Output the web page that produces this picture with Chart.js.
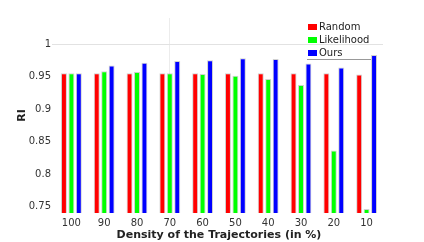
<!DOCTYPE html>
<html>
<head>
<meta charset="utf-8">
<script src="https://cdn.jsdelivr.net/npm/chart.js@4"></script>
<style>
  html, body { margin: 0; padding: 0; background: #fff; }
  #wrap { position: relative; width: 424px; height: 242px; }
</style>
</head>
<body>
<div id="wrap"><canvas id="riChart" width="424" height="242"></canvas></div>
<script>
// Data
const densities = ['100', '90', '80', '70', '60', '50', '40', '30', '20', '10'];
const randomRI = [0.955, 0.955, 0.955, 0.955, 0.955, 0.955, 0.955, 0.955, 0.955, 0.953];
const likelihoodRI = [0.955, 0.958, 0.957, 0.955, 0.954, 0.951, 0.946, 0.937, 0.836, 0.746];
const oursRI = [0.955, 0.967, 0.971, 0.974, 0.975, 0.978, 0.977, 0.970, 0.964, 0.983];
const yTicks = [0.75, 0.8, 0.85, 0.9, 0.95, 1];

const font = "'DejaVu Sans', sans-serif";

// legend drawn inside the plot, top right, with a rule under it
const boxLegend = {
    id: 'boxLegend',
    afterDraw(chart) {
        const ctx = chart.ctx;
        const x0 = 308, y0 = 27;
        ctx.save();
        ctx.font = '10px ' + font;
        ctx.textBaseline = 'middle';
        chart.data.datasets.forEach((ds, i) => {
            const y = y0 + i * 13;
            ctx.fillStyle = ds.backgroundColor;
            ctx.fillRect(x0, y - 3, 9, 6);
            ctx.fillStyle = '#222';
            ctx.fillText(ds.label, x0 + 11, y);
        });
        ctx.strokeStyle = '#999';
        ctx.lineWidth = 1;
        ctx.beginPath();
        ctx.moveTo(307, 59.5);
        ctx.lineTo(371, 59.5);
        ctx.stroke();
        ctx.restore();
    }
};

const gridY = c => c.tick && c.tick.value === 1 ? '#e2e2e2' : 'rgba(0,0,0,0)';

const riCtx = document.getElementById('riChart').getContext('2d');
const riChart = new Chart(riCtx, {
    type: 'bar',
    data: {
        labels: densities,
        datasets: [
            {label: 'Random', data: randomRI, backgroundColor: '#ff0000'},
            {label: 'Likelihood', data: likelihoodRI, backgroundColor: '#00ff00'},
            {label: 'Ours', data: oursRI, backgroundColor: '#0000ff'}
        ]
    },
    options: {
        responsive: false,
        animation: false,
        layout: {padding: {top: 18, right: 41, left: 16, bottom: 0}},
        datasets: {
            bar: {
                categoryPercentage: 0.68,
                barPercentage: 0.8,
                borderWidth: 1,
                borderColor: 'rgba(70,70,70,0.25)',
                base: 0.74
            }
        },
        plugins: {
            legend: {display: false},
            tooltip: {enabled: false}
        },
        scales: {
            x: {
                border: {display: false},
                grid: {
                    offset: false,
                    color: c => c.index === 3 ? '#ececec' : 'rgba(0,0,0,0)',
                    drawTicks: false
                },
                ticks: {color: '#333', font: {family: font, size: 10}, padding: 4},
                title: {
                    display: true,
                    text: 'Density of the Trajectories (in %)',
                    color: '#222',
                    font: {family: font, size: 11, weight: 'bold'},
                    padding: {top: 0, bottom: 0}
                },
                afterFit: s => { s.height = 29; }
            },
            y: {
                min: 0.74,
                max: 1.04,
                border: {display: false},
                afterBuildTicks: s => { s.ticks = yTicks.map(v => ({value: v})); },
                grid: {
                    color: gridY,
                    tickColor: gridY,
                    tickLength: 3
                },
                ticks: {
                    color: '#333',
                    font: {family: font, size: 10},
                    padding: 1,
                    callback: v => String(v)
                },
                title: {
                    display: true,
                    text: 'RI',
                    color: '#222',
                    font: {family: font, size: 11, weight: 'bold'},
                    padding: {top: 0, bottom: 0}
                },
                afterFit: s => { s.width = 39; }
            }
        }
    },
    plugins: [boxLegend]
});
</script>
</body>
</html>
